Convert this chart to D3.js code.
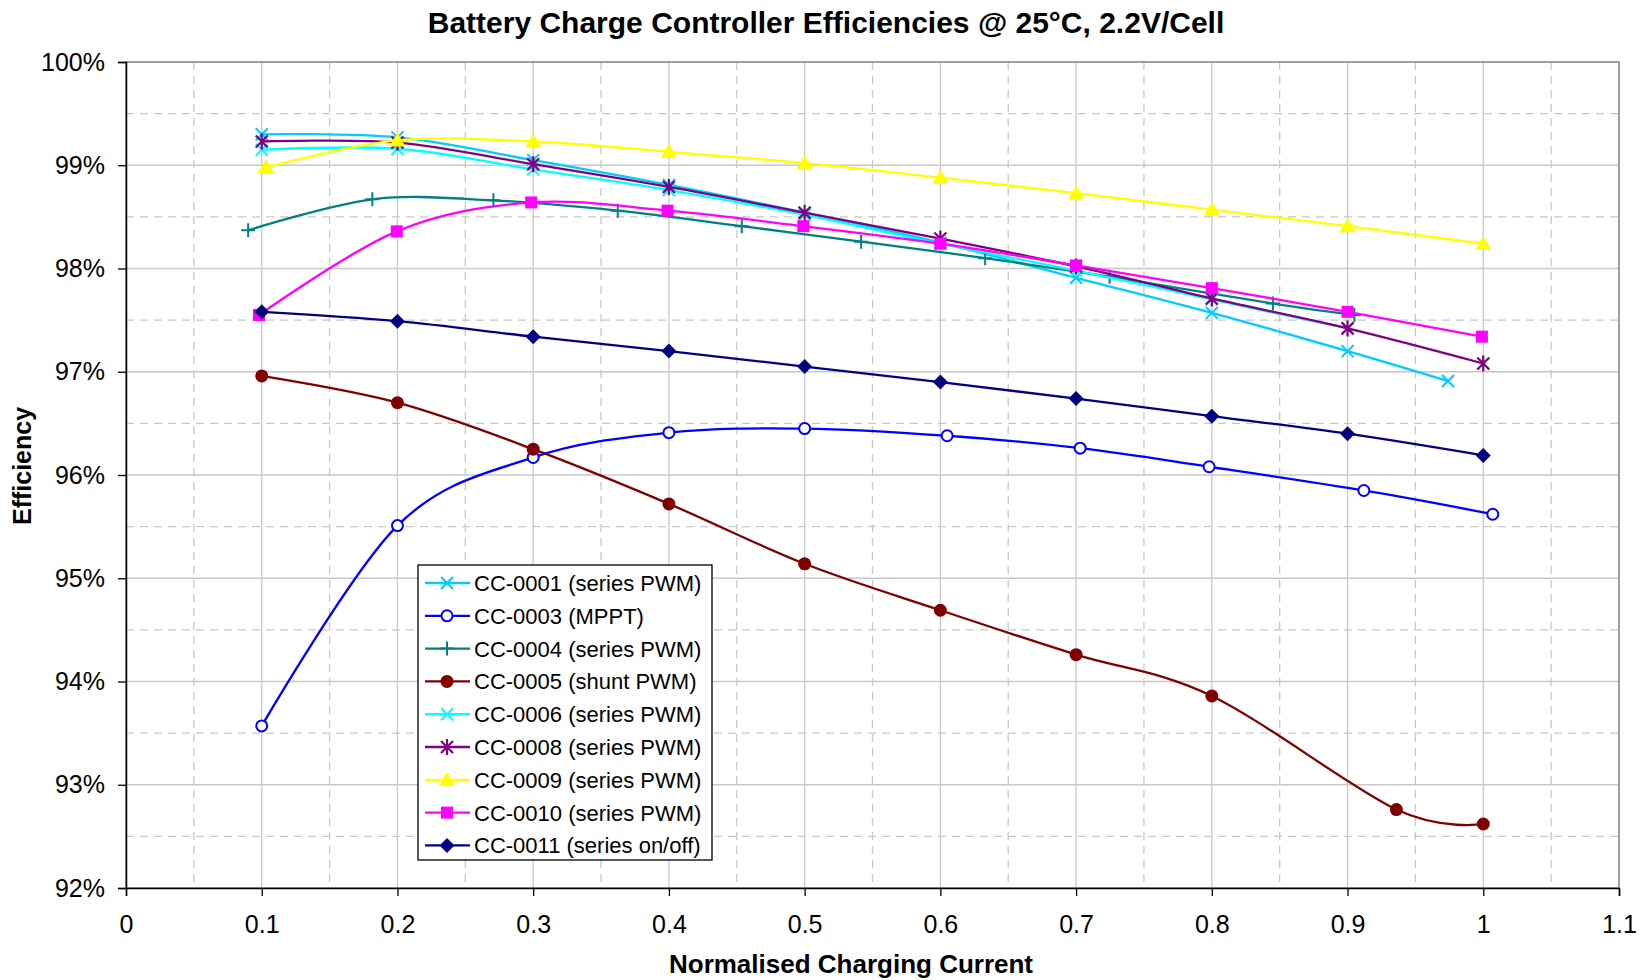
<!DOCTYPE html>
<html>
<head>
<meta charset="utf-8">
<script src="https://cdn.jsdelivr.net/npm/d3@7"></script>
<style>
  body { margin: 0; background: #fff; }
  text { font-family: "Liberation Sans", Arial, sans-serif; }
</style>
</head>
<body>
<div id="chart"></div>
<script>
// measured points [normalised current, efficiency %]
const cc0001 = [[0.1, 99.30], [0.2, 99.27], [0.3, 99.05], [0.4, 98.81], [0.5, 98.54], [0.6, 98.25], [0.7, 97.91], [0.8, 97.57], [0.9, 97.20], [0.974, 96.91]];
const cc0003 = [[0.1, 93.57], [0.2, 95.51], [0.3, 96.17], [0.4, 96.41], [0.5, 96.45], [0.605, 96.38], [0.703, 96.26], [0.798, 96.08], [0.912, 95.85], [1.007, 95.62]];
const cc0004 = [[0.09, 98.37], [0.1815, 98.67], [0.2707, 98.66], [0.3623, 98.56], [0.4537, 98.41], [0.5416, 98.26], [0.633, 98.10], [0.7247, 97.92], [0.845, 97.66], [0.905, 97.55]];
const cc0005 = [[0.1, 96.96], [0.2, 96.70], [0.3, 96.25], [0.4, 95.72], [0.5, 95.14], [0.6, 94.69], [0.7, 94.26], [0.8, 93.86], [0.936, 92.76], [1.0, 92.62]];
const cc0006 = [[0.1, 99.15], [0.2, 99.16], [0.3, 98.96], [0.4, 98.76], [0.5, 98.52], [0.6, 98.24], [0.7, 97.98], [0.8, 97.70], [0.9, 97.42]];
const cc0008 = [[0.1, 99.23], [0.2, 99.22], [0.3, 99.01], [0.4, 98.79], [0.5, 98.54], [0.6, 98.29], [0.7, 98.02], [0.8, 97.71], [0.9, 97.42], [1.0, 97.08]];
const cc0009 = [[0.103, 98.98], [0.2, 99.24], [0.3, 99.23], [0.4, 99.13], [0.5, 99.02], [0.6, 98.88], [0.7, 98.73], [0.8, 98.57], [0.9, 98.41], [1.0, 98.24]];
const cc0010 = [[0.098, 97.55], [0.1995, 98.36], [0.2985, 98.64], [0.399, 98.56], [0.499, 98.41], [0.6, 98.24], [0.7, 98.03], [0.8, 97.81], [0.9, 97.58], [0.999, 97.34]];
const cc0011 = [[0.1, 97.58], [0.2, 97.49], [0.3, 97.34], [0.4, 97.20], [0.5, 97.05], [0.6, 96.90], [0.7, 96.74], [0.8, 96.57], [0.9, 96.40], [1.0, 96.19]];

const seriesNames = ['CC-0001 (series PWM)', 'CC-0003 (MPPT)', 'CC-0004 (series PWM)', 'CC-0005 (shunt PWM)',
  'CC-0006 (series PWM)', 'CC-0008 (series PWM)', 'CC-0009 (series PWM)', 'CC-0010 (series PWM)', 'CC-0011 (series on/off)'];
const seriesData = [cc0001, cc0003, cc0004, cc0005, cc0006, cc0008, cc0009, cc0010, cc0011];
const seriesColors = ['#00CCFF', '#0000FF', '#008080', '#800000', '#00FFFF', '#800080', '#FFFF00', '#FF00FF', '#000080'];
const seriesMarkers = ['cross', 'ring', 'plus', 'dot', 'cross', 'star', 'triangle', 'square', 'diamond'];

const xTicks = [0, 0.1, 0.2, 0.3, 0.4, 0.5, 0.6, 0.7, 0.8, 0.9, 1, 1.1];
const yTicks = [92, 93, 94, 95, 96, 97, 98, 99, 100];

const width = 1644, height = 980;
const margin = { top: 62, right: 25, bottom: 92, left: 126 };
const innerW = width - margin.left - margin.right;
const innerH = height - margin.top - margin.bottom;

const svg = d3.select('#chart').append('svg')
  .attr('width', width).attr('height', height);

const x = d3.scaleLinear().domain([0, 1.1]).range([0, innerW]);
const y = d3.scaleLinear().domain([92, 100]).range([innerH, 0]);

const g = svg.append('g').attr('transform', 'translate(' + margin.left + ',' + margin.top + ')');

// minor dashed grid
const minorX = d3.range(0.05, 1.1, 0.1);
const minorY = d3.range(92.5, 100, 1);
g.selectAll('.minor-x').data(minorX).enter().append('line')
  .attr('x1', d => x(d)).attr('x2', d => x(d)).attr('y1', 0).attr('y2', innerH)
  .attr('stroke', '#c8c8c8').attr('stroke-width', 1.3).attr('stroke-dasharray', '8,6');
g.selectAll('.minor-y').data(minorY).enter().append('line')
  .attr('y1', d => y(d)).attr('y2', d => y(d)).attr('x1', 0).attr('x2', innerW)
  .attr('stroke', '#c8c8c8').attr('stroke-width', 1.3).attr('stroke-dasharray', '8,6');

// major solid grid
g.selectAll('.major-x').data(xTicks.slice(1, -1)).enter().append('line')
  .attr('x1', d => x(d)).attr('x2', d => x(d)).attr('y1', 0).attr('y2', innerH)
  .attr('stroke', '#c8c8c8').attr('stroke-width', 1.3);
g.selectAll('.major-y').data(yTicks.slice(1, -1)).enter().append('line')
  .attr('y1', d => y(d)).attr('y2', d => y(d)).attr('x1', 0).attr('x2', innerW)
  .attr('stroke', '#c8c8c8').attr('stroke-width', 1.3);

// plot border
g.append('rect').attr('width', innerW).attr('height', innerH)
  .attr('fill', 'none').attr('stroke', '#808080').attr('stroke-width', 1.5);

// axes
const xAxis = g.append('g').attr('transform', 'translate(0,' + innerH + ')')
  .call(d3.axisBottom(x).tickValues(xTicks).tickFormat(d3.format('')).tickSize(8).tickPadding(19));
const yAxis = g.append('g')
  .call(d3.axisLeft(y).tickValues(yTicks).tickFormat(d => d + '%').tickSize(8).tickPadding(13));
[xAxis, yAxis].forEach(a => {
  a.select('.domain').attr('stroke', '#000').attr('stroke-width', 1.5);
  a.selectAll('.tick line').attr('stroke', '#000').attr('stroke-width', 1.3);
  a.selectAll('.tick text').attr('fill', '#000').style('font-size', '25px')
    .style('font-family', '"Liberation Sans", Arial, sans-serif');
});

const line = d3.line()
  .x(d => x(d[0]))
  .y(d => y(d[1]))
  .curve(d3.curveCardinal.tension(0));

function drawMarker(sel, type, color) {
  if (type === 'cross') {
    sel.append('path').attr('d', 'M-6,-6L6,6M-6,6L6,-6').attr('stroke', color).attr('stroke-width', 2).attr('fill', 'none');
  } else if (type === 'ring') {
    sel.append('circle').attr('r', 5.5).attr('fill', '#fff').attr('stroke', color).attr('stroke-width', 2);
  } else if (type === 'plus') {
    sel.append('path').attr('d', 'M-7,0L7,0M0,-7L0,7').attr('stroke', color).attr('stroke-width', 2).attr('fill', 'none');
  } else if (type === 'dot') {
    sel.append('circle').attr('r', 6.5).attr('fill', color);
  } else if (type === 'star') {
    sel.append('path').attr('d', 'M-6,-6L6,6M-6,6L6,-6M0,-8L0,8').attr('stroke', color).attr('stroke-width', 2.2).attr('fill', 'none');
  } else if (type === 'triangle') {
    sel.append('path').attr('d', 'M0,-8L8,6L-8,6Z').attr('fill', color);
  } else if (type === 'square') {
    sel.append('rect').attr('x', -6).attr('y', -6).attr('width', 12).attr('height', 12).attr('fill', color);
  } else if (type === 'diamond') {
    sel.append('path').attr('d', 'M0,-7.5L7.5,0L0,7.5L-7.5,0Z').attr('fill', color);
  }
}

seriesData.forEach((data, i) => {
  const sg = g.append('g').attr('class', 'series');
  sg.append('path').datum(data)
    .attr('d', line)
    .attr('fill', 'none')
    .attr('stroke', seriesColors[i])
    .attr('stroke-width', 2.3);
  sg.selectAll('.pt').data(data).enter().append('g')
    .attr('transform', d => 'translate(' + x(d[0]) + ',' + y(d[1]) + ')')
    .each(function () { drawMarker(d3.select(this), seriesMarkers[i], seriesColors[i]); });
});

// legend
const legend = svg.append('g').attr('transform', 'translate(418,565)');
legend.append('rect').attr('width', 294).attr('height', 295)
  .attr('fill', '#fff').attr('stroke', '#000').attr('stroke-width', 1.3);
seriesNames.forEach((name, i) => {
  const row = legend.append('g').attr('transform', 'translate(0,' + (18 + i * 32.8) + ')');
  row.append('line').attr('x1', 7).attr('x2', 52).attr('y1', 0).attr('y2', 0)
    .attr('stroke', seriesColors[i]).attr('stroke-width', 2.3);
  drawMarker(row.append('g').attr('transform', 'translate(29,0)'), seriesMarkers[i], seriesColors[i]);
  row.append('text').attr('x', 56).attr('y', 0).attr('dy', '0.36em')
    .style('font-size', '22px').attr('fill', '#000').text(name);
});

// titles
svg.append('text').attr('x', 826).attr('y', 33)
  .attr('text-anchor', 'middle').style('font-size', '30px').style('font-weight', 'bold')
  .text('Battery Charge Controller Efficiencies @ 25°C, 2.2V/Cell');
svg.append('text').attr('x', 851).attr('y', 973)
  .attr('text-anchor', 'middle').style('font-size', '26px').style('font-weight', 'bold')
  .text('Normalised Charging Current');
svg.append('text').attr('transform', 'translate(31,466) rotate(-90)')
  .attr('text-anchor', 'middle').style('font-size', '25px').style('font-weight', 'bold')
  .text('Efficiency');
</script>
</body>
</html>
